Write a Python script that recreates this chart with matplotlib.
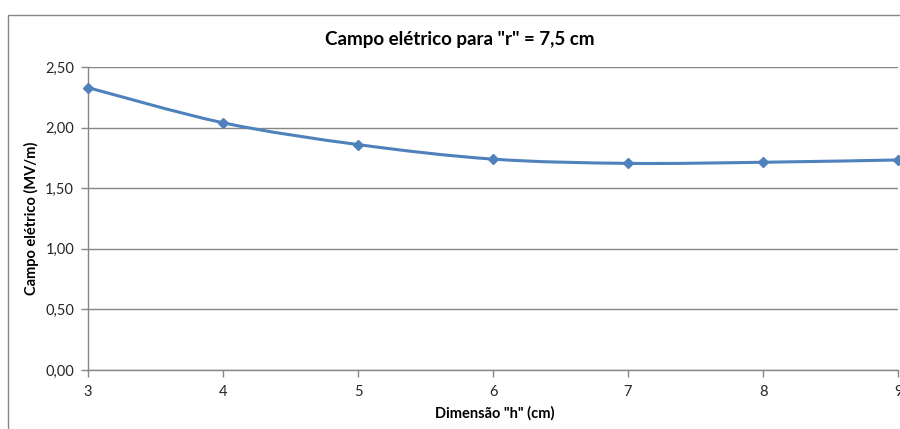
import matplotlib
matplotlib.use("Agg")
import matplotlib.pyplot as plt
from matplotlib.path import Path
from matplotlib.patches import PathPatch, Rectangle
import numpy as np

# Electric field vs. dimension h, r = 7.5 cm
h_cm = [3, 4, 5, 6, 7, 8, 9]
campo_mv_m = [2.33, 2.04, 1.86, 1.74, 1.705, 1.714, 1.733]
y_ticks = [0.0, 0.5, 1.0, 1.5, 2.0, 2.5]
y_tick_labels = ["0,00", "0,50", "1,00", "1,50", "2,00", "2,50"]
x_ticks = [3, 4, 5, 6, 7, 8, 9]

title = 'Campo elétrico para "r" = 7,5 cm'
xlabel = 'Dimensão "h" (cm)'
ylabel = "Campo elétrico (MV/m)"

plt.rcParams["font.family"] = ["Lato", "DejaVu Sans"]

LINE = "#4F81BD"
GRID = "#868686"
TEXT = "#262626"

W, H = 900, 429
fig = plt.figure(figsize=(W / 100, H / 100), dpi=100)

# outer chart frame
fig.patches.append(Rectangle((7.5 / W, -0.1), 2.0, 1 - 15.5 / H + 0.1,
                             transform=fig.transFigure, fill=False,
                             edgecolor=GRID, linewidth=1.0))

left, right, top, bottom = 88, 898, 67, 370
ax = fig.add_axes([left / W, 1 - bottom / H, (right - left) / W, (bottom - top) / H])
ax.set_xlim(3, 9)
ax.set_ylim(0, 2.5)

ax.set_yticks(y_ticks)
ax.set_yticklabels(y_tick_labels)
ax.set_xticks(x_ticks)
ax.grid(axis="y", color=GRID, linewidth=1.0)
ax.set_axisbelow(True)
for s in ["top", "right"]:
    ax.spines[s].set_visible(False)
for s in ["left", "bottom"]:
    ax.spines[s].set_color(GRID)
    ax.spines[s].set_linewidth(1.0)
ax.tick_params(axis="both", direction="out", length=5, width=1.0, color=GRID,
               labelsize=10.5, labelcolor=TEXT)
ax.tick_params(axis="x", pad=6)
ax.tick_params(axis="y", pad=5)

# smoothed line (Catmull-Rom style Bezier segments through the data points)
x = np.array(h_cm, dtype=float)
y = np.array(campo_mv_m, dtype=float)
n = len(x)
verts = [(x[0], y[0])]
codes = [Path.MOVETO]
t = 1 / 6
for i in range(n - 1):
    p0 = (x[i - 1], y[i - 1]) if i > 0 else (x[i], y[i])
    p1 = (x[i], y[i])
    p2 = (x[i + 1], y[i + 1])
    p3 = (x[i + 2], y[i + 2]) if i + 2 < n else (x[i + 1], y[i + 1])
    c1 = (p1[0] + (p2[0] - p0[0]) * t, p1[1] + (p2[1] - p0[1]) * t)
    c2 = (p2[0] - (p3[0] - p1[0]) * t, p2[1] - (p3[1] - p1[1]) * t)
    verts += [c1, c2, p2]
    codes += [Path.CURVE4] * 3
ax.add_patch(PathPatch(Path(verts, codes), facecolor="none", edgecolor=LINE,
                       linewidth=2.2, capstyle="round", joinstyle="round",
                       clip_on=False, zorder=3))
ax.plot(h_cm, campo_mv_m, linestyle="none", marker="D", markersize=5,
        color=LINE, clip_on=False, zorder=4)

fig.text(460 / W, 1 - 40 / H, title, ha="center", va="center",
         fontsize=13.5, fontweight="bold", color="black")
fig.text(495 / W, 1 - 413 / H, xlabel, ha="center", va="center",
         fontsize=10.5, fontweight="bold", color="black")
fig.text(31 / W, 1 - 218 / H, ylabel, ha="center", va="center", rotation=90,
         fontsize=10.5, fontweight="bold", color="black")

fig.savefig("out.png", dpi=100, facecolor="white")
